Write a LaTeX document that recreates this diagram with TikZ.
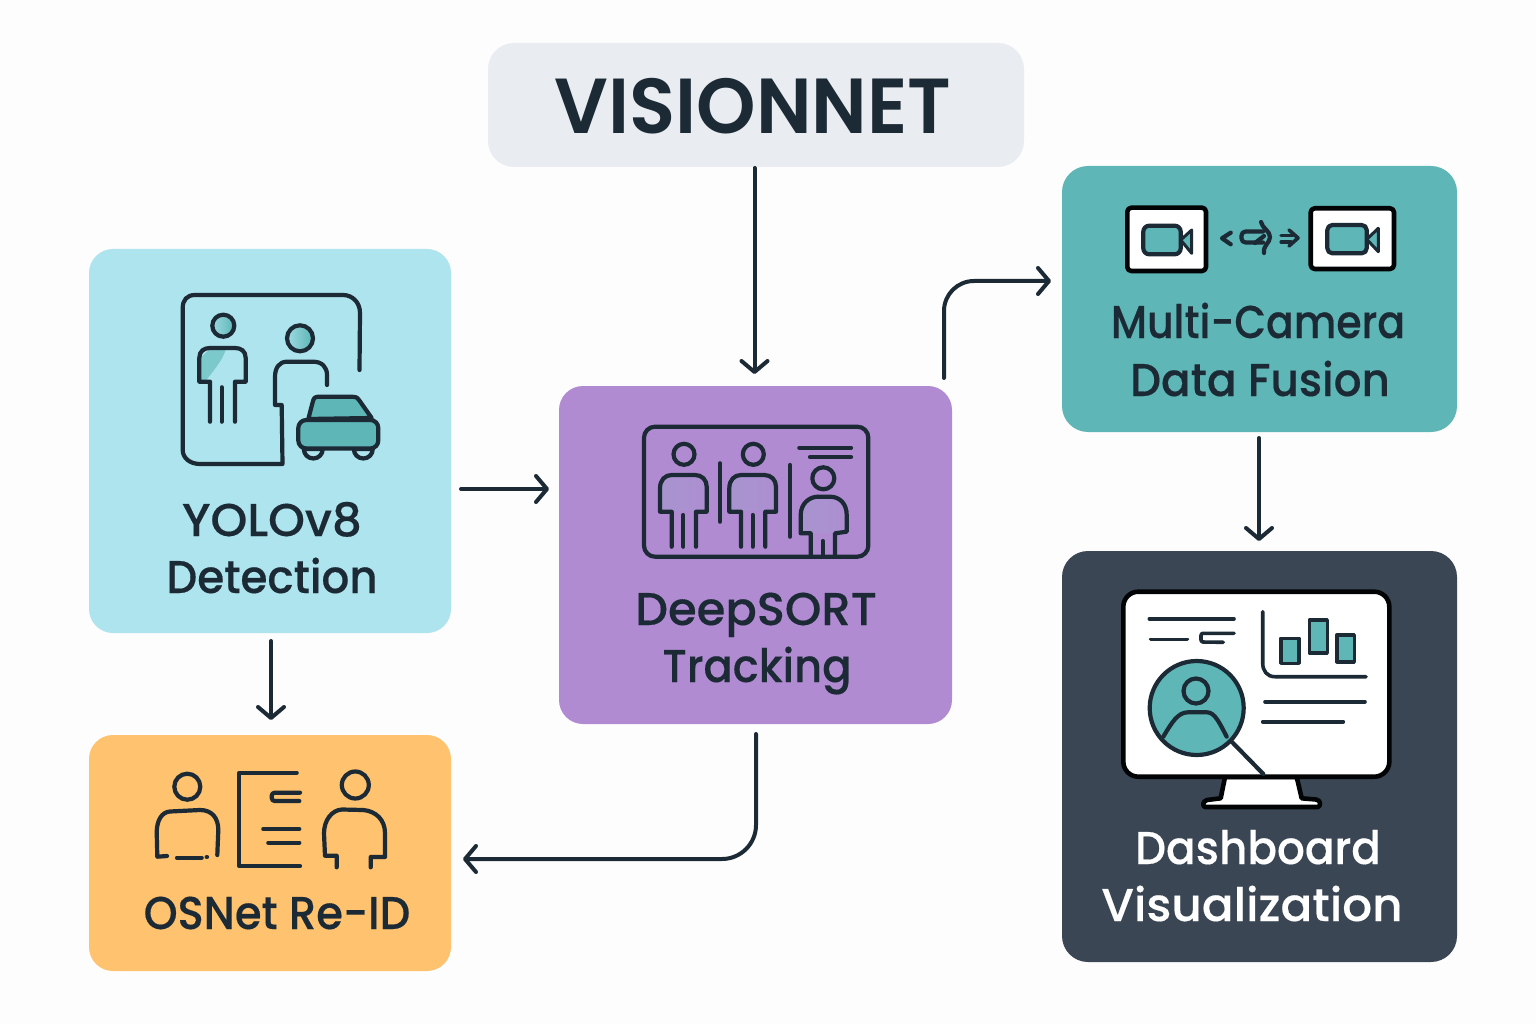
\documentclass[tikz,border=0pt]{standalone}
\usepackage{fontspec}
\usetikzlibrary{arrows.meta}
\newfontfamily\labfont{Poppins Medium}[FakeBold=0.3]
\newfontfamily\titlefont{Poppins SemiBold}
\definecolor{ink}{HTML}{1C2A35}
\definecolor{bgc}{HTML}{FDFDFD}
\definecolor{cvis}{HTML}{E9ECF0}
\definecolor{cyolo}{HTML}{AEE4EE}
\definecolor{cdeep}{HTML}{B18BD2}
\definecolor{cfus}{HTML}{5EB6B6}
\definecolor{cdash}{HTML}{3B4655}
\definecolor{cos}{HTML}{FFC26F}
\definecolor{cpale}{HTML}{7CC9CC}
\definecolor{cpurp}{HTML}{A794CE}
\tikzset{
  x=1pt,y=-1pt,
  boxn/.style={inner sep=0pt,outer sep=0pt,rounded corners=#1},
  boxn/.default=24pt,
  lab/.style={anchor=base,inner sep=0pt,text=ink,font=\labfont\fontsize{46}{46}\selectfont},
  flow/.style={draw=ink,line width=4pt,-{Straight Barb[length=11pt,width=26pt,line width=4pt,round]},line cap=round},
  ic/.style={draw=ink,line width=4.2pt,line cap=round,line join=round},
  icw/.style={draw=black!92!ink,line width=4.6pt,line cap=round,line join=round},
  thin/.style={draw=ink,line width=3.6pt,line cap=round,line join=round},
}
\begin{document}
\begin{tikzpicture}
\useasboundingbox (0,0) rectangle (1536,1024);
\fill[bgc] (0,0) rectangle (1536,1024);
% boxes
\node[boxn=26pt,fill=cvis,minimum width=536pt,minimum height=124pt] (vision) at (756,105) {};
\node[boxn,fill=cyolo,minimum width=362pt,minimum height=384pt] (yolo) at (270,441) {};
\node[boxn,fill=cdeep,minimum width=393pt,minimum height=338pt] (deep) at (755.5,555) {};
\node[boxn=26pt,fill=cfus,minimum width=395pt,minimum height=266pt] (fusion) at (1259.5,299) {};
\node[boxn=26pt,fill=cdash,minimum width=395pt,minimum height=411pt] (dash) at (1259.5,756.5) {};
\node[boxn,fill=cos,minimum width=362pt,minimum height=236pt] (osnet) at (270,853) {};
% labels
\node[anchor=base,inner sep=0pt,text=ink,font=\titlefont\fontsize{78}{78}\selectfont] (tvis) at (753,134) {\scalebox{.97}[1]{VISIONNET}};
\node[lab] (ty1) at (272,536) {\scalebox{1.02}[1]{YOLOv8}};
\node[lab] (ty2) at (272,593) {\scalebox{.95}[1]{Detection}};
\node[lab] (td1) at (756,625) {\scalebox{1.01}[1]{DeepSORT}};
\node[lab] (td2) at (757,682) {\scalebox{.94}[1]{Tracking}};
\node[lab] (tf1) at (1258,338) {\scalebox{.89}[1]{Multi-Camera}};
\node[lab] (tf2) at (1260,396) {\scalebox{.95}[1]{Data Fusion}};
\node[lab] (to1) at (277,929) {\scalebox{.94}[1]{OSNet Re-ID}};
\node[lab,text=white] (tb1) at (1258,864) {\scalebox{.95}[1]{Dashboard}};
\node[lab,text=white] (tb2) at (1252,921) {\scalebox{1.02}[1]{Visualization}};
% connectors
\draw[flow] ([xshift=-1.5pt,yshift=-1pt]vision.south) -- ([xshift=-1pt,yshift=12pt]deep.north);
\coordinate (yd) at (yolo.east |- 0,489);
\draw[flow] ([xshift=10pt]yd) -- ([xshift=-10pt]deep.west |- yd);
\draw[flow] ([xshift=1pt,yshift=-8pt]yolo.south) -- ([xshift=1pt,yshift=15pt]osnet.north);
\coordinate (df) at (944,378);
\coordinate (fd) at (1051,281);
\draw[flow,rounded corners=30pt] (df) -- (944,281) -- (fd);
\draw[flow] ([yshift=-6pt,xshift=-.5pt]fusion.south) -- ([yshift=10pt,xshift=-.5pt]dash.north);
\coordinate (dob) at (756,734);
\coordinate (doe) at (463,859);
\draw[flow,rounded corners=34pt] (dob) -- (756,859) -- (doe);
% YOLO icon
\shade[left color=cyolo!60!cpale,right color=cfus] (223.3,325.7) circle (11);
\shade[left color=cyolo!60!cpale,right color=cfus] (300,338.3) circle (12);
\fill[cpale] (200,382) -- (200,358) -- (210,349) -- (226,349) .. controls (222,362) and (212,372) .. (205,382) -- cycle;
\draw[ic] (223.3,325.7) circle (11);
\draw[ic] (300,338.3) circle (13);
\draw[ic] (359.5,370) -- (360,313) .. controls (360,302) and (352,295) .. (343,295) -- (195,295) .. controls (187,295) and (182.7,300) .. (182.7,308) -- (182.7,450) .. controls (182.7,458) and (190,464) .. (200,464) -- (282.5,464) -- (281.7,405) -- (275,405) -- (275,377) .. controls (275,368) and (279,361.7) .. (287,361.7) -- (313,361.7) .. controls (322,361.7) and (327,367) .. (327,375) -- (327,385);
\draw[ic] (210,421.7) -- (210,381.7) -- (199.3,381.7) -- (199.3,358) .. controls (199.3,351) and (204,348) .. (210,348) -- (235,348) .. controls (241,348) and (245.7,351) .. (245.7,358) -- (245.7,381.7) -- (235,381.7) -- (235,421.7);
\draw[ic] (221.7,387.3) -- (221.7,421.7);
\filldraw[ic,fill=cfus] (308.3,419) -- (313,401) .. controls (314,397) and (316,396.7) .. (320,396.7) -- (352,396.7) .. controls (355,396.7) and (357,397) .. (359,400) -- (371.7,418) -- cycle;
\filldraw[ic,fill=cyolo] (303.8,449) arc[start angle=180,end angle=0,radius=9.5] -- cycle;
\filldraw[ic,fill=cyolo] (353.8,449) arc[start angle=180,end angle=0,radius=9.5] -- cycle;
\filldraw[ic,fill=cfus,rounded corners=8pt] (298.3,420) rectangle (378.3,448.5);
% DeepSORT icon
\draw[ic,rounded corners=11pt] (644,426.7) rectangle (868.3,556.7);
\foreach \o in {0,69.3}{
  \shade[left color=cpurp,right color=cdeep!65!cpurp,shift={(\o,0)}] (661,511) -- (661,488) .. controls (661,481) and (666,476) .. (672,476) -- (695,476) .. controls (702,476) and (706,481) .. (706,487) -- (706,511) -- cycle;
  \draw[ic,shift={(\o,0)}] (684,454.3) circle (10.5);
  \draw[ic,shift={(\o,0)}] (671.7,546.7) -- (671.7,511.7) -- (660,511.7) -- (660,488.3) .. controls (660,480) and (665,475) .. (671.7,475) -- (695,475) .. controls (702,475) and (706.7,480) .. (706.7,486.7) -- (706.7,511.7) -- (696,511.7) -- (696,546.7);
  \draw[ic,shift={(\o,0)}] (683.3,515) -- (683.3,546.7);
}
\draw[ic] (720,463.3) -- (720,521.7);
\draw[ic] (790,465) -- (790,536.7);
\draw[ic] (799.3,447.7) -- (851,447.7);
\draw[ic] (810,457) -- (851,457);
\shade[left color=cpurp,right color=cdeep!65!cpurp] (801,533) -- (801,515) .. controls (801,504) and (810,497) .. (818,497) -- (830,497) .. controls (840,497) and (846,505) .. (846,515) -- (846,533) -- cycle;
\draw[ic] (823.3,478.3) circle (11);
\draw[ic] (810.7,555) -- (810.7,533.3) -- (800.7,533.3) -- (800.7,515) .. controls (800.7,504) and (809,496.7) .. (818,496.7) -- (830,496.7) .. controls (840,496.7) and (846.7,504) .. (846.7,515) -- (846.7,531.7) -- (835,533.3) -- (835,555);
\draw[ic] (822.7,541) -- (822.7,555);
% Fusion icon
\filldraw[icw,fill=white,rounded corners=4pt] (1127.3,207.7) rectangle (1206,271);
\filldraw[icw,fill=white,rounded corners=4pt] (1310.7,208.3) rectangle (1394,269);
\filldraw[ic,fill=cfus,rounded corners=6pt] (1143.3,225.7) rectangle (1180.7,254.3);
\filldraw[ic,fill=cfus,line width=3pt] (1180.7,240) -- (1191.7,230) -- (1191.7,253.3) -- cycle;
\filldraw[ic,fill=cfus,rounded corners=5pt] (1327.3,225) rectangle (1366.7,253.3);
\filldraw[ic,fill=cfus,line width=3pt] (1366.7,239.3) -- (1378.3,228.3) -- (1378.3,251.7) -- cycle;
\draw[ic] (1230.7,232.7) -- (1222,238.3) -- (1230.7,244.3);
\draw[ic,rounded corners=4pt] (1263,231.5) -- (1241.5,231.5) -- (1241.5,242.5) -- (1263,242.5);
\draw[ic] (1261,222) .. controls (1262,228) and (1270,231) .. (1270,237) .. controls (1270,243) and (1263,245) .. (1264,253);
\draw[ic] (1255,243) -- (1264,236);
\draw[ic,line width=3.6pt] (1289,230) -- (1298,238) -- (1289,246);
\draw[ic,line width=3.2pt] (1281,235.5) -- (1293,235.5);
\draw[ic,line width=3.2pt] (1281,242) -- (1291,242);
% OSNet icon
\draw[ic] (187.3,786.7) circle (13);
\draw[ic] (167,856) -- (157.3,856.7) -- (156.7,831.7) .. controls (157,820) and (162,812) .. (170,811.5) -- (200,810) .. controls (212,810) and (218.3,818) .. (218.3,830) -- (217.3,855);
\draw[ic] (177,857.7) -- (201.7,857.7);
\draw[ic] (206.7,857) -- (207,857);
\draw[ic] (296.7,772.7) -- (239.3,772.7) -- (239.3,866) -- (300,866);
\draw[ic,rounded corners=3pt] (300,792.7) -- (271.7,792.7) -- (271.7,801) -- (299.3,801);
\draw[ic] (263.3,829) -- (299.3,829);
\draw[ic] (268.3,842.7) -- (299.3,842.7);
\draw[ic] (355.3,785) circle (13.5);
\draw[ic] (336.7,867.3) -- (336.7,855.7) -- (325,855.7) -- (324,833.3) .. controls (324,820) and (332,810) .. (342,809.5) -- (363,810) .. controls (376,811) and (385,820) .. (385,833) -- (385,857) -- (370.7,857) -- (370.7,867.3);
% Dashboard icon
\filldraw[icw,fill=white] (1225,777) -- (1220.7,798.3) -- (1207,800) .. controls (1203,801) and (1202,806) .. (1205,807) -- (1318,807) .. controls (1321,806) and (1321,800) .. (1316,799.5) -- (1301.7,798.3) -- (1296.7,777) -- cycle;
\filldraw[icw,fill=white,rounded corners=15pt] (1123.3,591.7) rectangle (1389.3,776.7);
\draw[thin] (1149.3,618.7) -- (1234,618.7);
\draw[thin] (1150.7,639.3) -- (1187.3,639.3);
\draw[thin,rounded corners=2pt] (1234,633.3) -- (1201,633.3) -- (1201,642) -- (1223.3,642.3);
\draw[thin] (1262.7,611.7) -- (1262.7,663) .. controls (1262.7,671) and (1267,676.7) .. (1275,676.7) -- (1366,676.7);
\filldraw[thin,fill=cfus] (1280.7,638.3) rectangle (1299,663.3);
\filldraw[thin,fill=cfus] (1309.3,620) rectangle (1327.3,652.7);
\filldraw[thin,fill=cfus] (1336.7,635) rectangle (1354.3,661.7);
\draw[thin] (1265,701.7) -- (1365,701.7);
\draw[thin] (1262.7,721.7) -- (1343.3,721.7);
\draw[ic] (1231.7,741.7) -- (1263.3,774);
\filldraw[ic,fill=cfus] (1196.7,708) circle (47);
\draw[ic] (1196,691) circle (12.5);
\draw[ic] (1163.3,736.7) .. controls (1172,722) and (1178,712.3) .. (1188,712.3) -- (1207,712.3) .. controls (1215,712.3) and (1220,724) .. (1226.7,736.7);
\end{tikzpicture}
\end{document}
